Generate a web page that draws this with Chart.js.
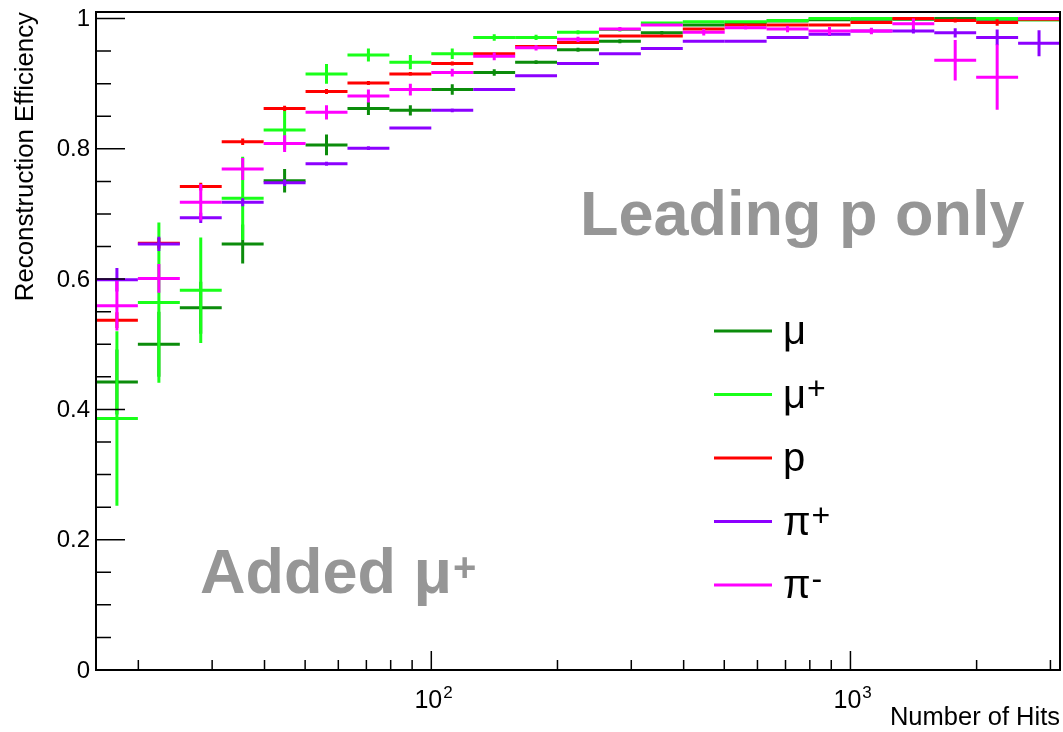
<!DOCTYPE html>
<html>
<head>
<meta charset="utf-8">
<script src="https://cdn.jsdelivr.net/npm/chart.js@4.4.1/dist/chart.umd.min.js"></script>
<style>
  html, body { margin: 0; padding: 0; background: #fff; }
  canvas { display: block; }
</style>
</head>
<body>
<canvas id="effChart" width="1063" height="732"></canvas>
<script>
// bins: 0.1 decade wide in number of hits
const binEdges = [15.85, 19.95, 25.12, 31.62, 39.81, 50.12, 63.10, 79.43, 100.0, 125.9, 158.5, 199.5,
  251.2, 316.2, 398.1, 501.2, 631.0, 794.3, 1000, 1259, 1585, 1995, 2512, 3162];
const binCenters = [17.78, 22.39, 28.18, 35.48, 44.67, 56.23, 70.79, 89.13, 112.2, 141.3, 177.8, 223.9,
  281.8, 354.8, 446.7, 562.3, 707.9, 891.3, 1122, 1413, 1778, 2239, 2818];

const muEff = [0.442, 0.500, 0.556, 0.654, 0.751, 0.806, 0.862, 0.859, 0.891, 0.917, 0.933, 0.952,
  0.965, 0.978, 0.990, 0.993, 0.996, 0.998, 0.999, 0.999, 1.000, 0.999, 0.998];
const muErr = [0.05, 0.05, 0.04, 0.03, 0.018, 0.016, 0.010, 0.008, 0.008, 0.005, 0.003, 0.003,
  0.003, 0.003, 0.002, 0.002, 0.002, 0.001, 0.001, 0.001, 0.001, 0.001, 0.002];

const muPlusEff = [0.386, 0.564, 0.583, 0.724, 0.829, 0.915, 0.944, 0.933, 0.946, 0.971, 0.971, 0.979,
  0.983, 0.993, 0.995, 0.995, 0.997, 1.000, 1.000, 1.000, 0.997, 1.000, 0.998];
const muPlusErr = [0.134, 0.123, 0.081, 0.064, 0.030, 0.015, 0.010, 0.011, 0.008, 0.005, 0.004, 0.003,
  0.003, 0.002, 0.002, 0.002, 0.002, 0.001, 0.001, 0.001, 0.002, 0.001, 0.002];

const pEff = [0.537, 0.655, 0.742, 0.811, 0.862, 0.888, 0.901, 0.915, 0.931, 0.946, 0.957, 0.963,
  0.973, 0.973, 0.984, 0.990, 0.990, 0.990, 0.994, 1.000, 0.997, 0.994, 0.999];
const pErr = [0.012, 0.008, 0.006, 0.005, 0.004, 0.004, 0.003, 0.003, 0.003, 0.002, 0.002, 0.002,
  0.002, 0.002, 0.002, 0.002, 0.002, 0.002, 0.002, 0.001, 0.003, 0.005, 0.002];

const piPlusEff = [0.599, 0.654, 0.694, 0.718, 0.748, 0.777, 0.801, 0.832, 0.859, 0.891, 0.912, 0.931,
  0.946, 0.954, 0.965, 0.965, 0.971, 0.976, 0.981, 0.981, 0.978, 0.971, 0.962];
const piPlusErr = [0.018, 0.011, 0.008, 0.006, 0.005, 0.003, 0.003, 0.002, 0.003, 0.002, 0.002, 0.002,
  0.002, 0.002, 0.002, 0.002, 0.002, 0.003, 0.004, 0.004, 0.007, 0.012, 0.020];

const piMinusEff = [0.559, 0.601, 0.718, 0.769, 0.808, 0.856, 0.881, 0.891, 0.917, 0.942, 0.955, 0.968,
  0.984, 0.990, 0.979, 0.986, 0.984, 0.981, 0.981, 0.992, 0.936, 0.910, 1.000];
const piMinusErr = [0.038, 0.022, 0.028, 0.017, 0.013, 0.011, 0.010, 0.009, 0.006, 0.006, 0.004, 0.004,
  0.003, 0.002, 0.005, 0.003, 0.005, 0.006, 0.005, 0.008, 0.031, 0.050, 0.001];

const seriesNames = ['μ', 'μ', 'p', 'π', 'π'];
const seriesSups = ['', '+', '', '+', '-'];
const seriesColors = ['#0b8c0b', '#19ff19', '#ff0000', '#8c00ff', '#ff00ff'];

const yMajorTicks = [0, 0.2, 0.4, 0.6, 0.8, 1];
const yMajorLabels = ['0', '0.2', '0.4', '0.6', '0.8', '1'];
const yMinorTicks = [0.05, 0.1, 0.15, 0.25, 0.3, 0.35, 0.45, 0.5, 0.55, 0.65, 0.7, 0.75, 0.85, 0.9, 0.95];
const xMajorTicks = [100, 1000];
const xMajorExps = ['2', '3'];
const xMinorTicks = [20, 30, 40, 50, 60, 70, 80, 90, 200, 300, 400, 500, 600, 700, 800, 900, 2000, 3000];

const FONT = '"Liberation Sans", Arial, Helvetica, sans-serif';

const toPoints = (eff, err) => eff.map((v, k) => ({ x: binCenters[k], y: v, err: err[k] }));

const datasets = [
  { label: 'μ', data: toPoints(muEff, muErr) },
  { label: 'μ+', data: toPoints(muPlusEff, muPlusErr) },
  { label: 'p', data: toPoints(pEff, pErr) },
  { label: 'π+', data: toPoints(piPlusEff, piPlusErr) },
  { label: 'π-', data: toPoints(piMinusEff, piMinusErr) },
].map((ds, i) => ({
  ...ds,
  borderColor: seriesColors[i],
  backgroundColor: seriesColors[i],
  pointRadius: 0,
  showLine: false,
}));

// text with an optional superscript
function drawSup(ctx, base, sup, x, y, size, supSize, raise, weight) {
  ctx.font = `${weight} ${size}px ${FONT}`;
  ctx.fillText(base, x, y);
  if (sup) {
    const w = ctx.measureText(base).width;
    ctx.font = `${weight} ${supSize}px ${FONT}`;
    ctx.fillText(sup, x + w + 1, y - raise);
  }
}

const whiteBg = {
  id: 'whiteBg',
  beforeDraw(chart) {
    const { ctx } = chart;
    ctx.save();
    ctx.fillStyle = '#fff';
    ctx.fillRect(0, 0, chart.width, chart.height);
    ctx.restore();
  }
};

// ROOT style crosses: horizontal = bin width, vertical = error
const errorBars = {
  id: 'errorBars',
  afterDatasetsDraw(chart) {
    const { ctx, scales: { x, y } } = chart;
    ctx.save();
    ctx.lineWidth = 3;
    chart.data.datasets.forEach((ds) => {
      ctx.strokeStyle = ds.borderColor;
      ds.data.forEach((pt, k) => {
        const x0 = x.getPixelForValue(binEdges[k]);
        const x1 = x.getPixelForValue(binEdges[k + 1]);
        const xc = x.getPixelForValue(pt.x);
        const yc = y.getPixelForValue(pt.y);
        ctx.beginPath();
        ctx.moveTo(x0, yc);
        ctx.lineTo(x1, yc);
        ctx.moveTo(xc, y.getPixelForValue(pt.y - pt.err));
        ctx.lineTo(xc, y.getPixelForValue(pt.y + pt.err));
        ctx.stroke();
      });
    });
    ctx.restore();
  }
};

const rootFrame = {
  id: 'rootFrame',
  afterDraw(chart) {
    const { ctx, chartArea: a, scales: { x, y } } = chart;
    ctx.save();
    ctx.strokeStyle = '#000';
    ctx.lineWidth = 2;
    ctx.strokeRect(a.left, a.top, a.right - a.left, a.bottom - a.top);

    ctx.lineWidth = 1.5;
    ctx.beginPath();
    yMajorTicks.forEach((v) => {
      const py = y.getPixelForValue(v);
      ctx.moveTo(a.left, py); ctx.lineTo(a.left + 29, py);
    });
    yMinorTicks.forEach((v) => {
      const py = y.getPixelForValue(v);
      ctx.moveTo(a.left, py); ctx.lineTo(a.left + 15, py);
    });
    xMajorTicks.forEach((v) => {
      const px = x.getPixelForValue(v);
      ctx.moveTo(px, a.bottom); ctx.lineTo(px, a.bottom - 19);
    });
    xMinorTicks.forEach((v) => {
      const px = x.getPixelForValue(v);
      ctx.moveTo(px, a.bottom); ctx.lineTo(px, a.bottom - 10);
    });
    ctx.stroke();

    ctx.fillStyle = '#000';
    ctx.font = `24px ${FONT}`;
    ctx.textAlign = 'right';
    ctx.textBaseline = 'middle';
    yMajorTicks.forEach((v, i) => {
      ctx.fillText(yMajorLabels[i], a.left - 6, y.getPixelForValue(v) + 1);
    });

    ctx.textBaseline = 'alphabetic';
    ctx.textAlign = 'left';
    xMajorTicks.forEach((v, i) => {
      const px = x.getPixelForValue(v);
      ctx.font = `25px ${FONT}`;
      const w = ctx.measureText('10').width;
      drawSup(ctx, '10', xMajorExps[i], px - w / 2 - 3, a.bottom + 38, 25, 17, 10, 'normal');
    });

    // axis titles
    ctx.font = `25.5px ${FONT}`;
    ctx.textAlign = 'right';
    ctx.fillText('Number of Hits', a.right, a.bottom + 55);
    ctx.save();
    ctx.translate(33, a.top);
    ctx.rotate(-Math.PI / 2);
    ctx.font = `25.8px ${FONT}`;
    ctx.fillText('Reconstruction Efficiency', 0, 0);
    ctx.restore();

    // annotations
    ctx.fillStyle = '#969696';
    ctx.textAlign = 'left';
    ctx.font = `bold 63px ${FONT}`;
    ctx.fillText('Leading p only', 580, 235);
    drawSup(ctx, 'Added μ', '+', 200, 593, 63, 40, 12, 'bold');

    // legend
    ctx.fillStyle = '#000';
    chart.data.datasets.forEach((ds, i) => {
      const ly = 331 + i * 63.5;
      ctx.strokeStyle = ds.borderColor;
      ctx.lineWidth = 3;
      ctx.beginPath();
      ctx.moveTo(714, ly);
      ctx.lineTo(772, ly);
      ctx.stroke();
      drawSup(ctx, seriesNames[i], seriesSups[i], 783, ly + 13, 40, 32, 9, 'normal');
    });
    ctx.restore();
  }
};

new Chart(document.getElementById('effChart'), {
  type: 'scatter',
  data: { datasets },
  options: {
    responsive: false,
    animation: false,
    devicePixelRatio: 1,
    layout: { padding: { left: 96, right: 3, top: 12, bottom: 62 } },
    plugins: { legend: { display: false }, tooltip: { enabled: false } },
    scales: {
      x: { type: 'logarithmic', min: 15.85, max: 3162, display: false },
      y: { type: 'linear', min: 0, max: 1.01, display: false },
    },
  },
  plugins: [whiteBg, errorBars, rootFrame],
});
</script>
</body>
</html>
